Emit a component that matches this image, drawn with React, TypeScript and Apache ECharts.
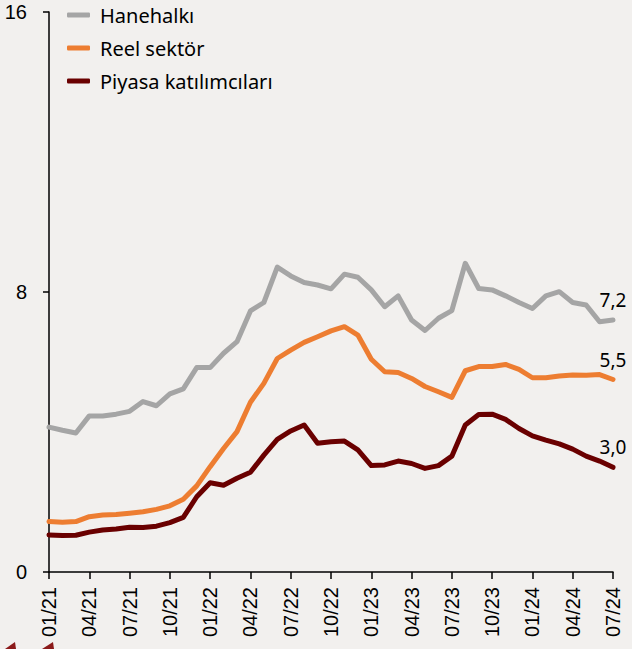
import React, { useEffect, useRef } from "react";
import * as echarts from "echarts";

const categories = [
  "01/21","02/21","03/21","04/21","05/21","06/21","07/21","08/21","09/21","10/21","11/21","12/21",
  "01/22","02/22","03/22","04/22","05/22","06/22","07/22","08/22","09/22","10/22","11/22","12/22",
  "01/23","02/23","03/23","04/23","05/23","06/23","07/23","08/23","09/23","10/23","11/23","12/23",
  "01/24","02/24","03/24","04/24","05/24","06/24","07/24",
];

const hanehalki = [
  4.14, 4.05, 3.97, 4.46, 4.46, 4.51, 4.59, 4.87, 4.75, 5.09, 5.23, 5.84,
  5.84, 6.25, 6.58, 7.46, 7.7, 8.71, 8.46, 8.27, 8.2, 8.09, 8.51, 8.42,
  8.06, 7.58, 7.89, 7.2, 6.9, 7.25, 7.47, 8.82, 8.1, 8.06, 7.89, 7.7,
  7.53, 7.89, 8.01, 7.7, 7.63, 7.15, 7.2,
];

const reelSektor = [
  1.44, 1.42, 1.44, 1.58, 1.63, 1.64, 1.68, 1.72, 1.79, 1.89, 2.08, 2.46,
  3.01, 3.53, 4.01, 4.85, 5.39, 6.1, 6.34, 6.56, 6.72, 6.89, 7.01, 6.77,
  6.08, 5.72, 5.7, 5.53, 5.3, 5.15, 4.99, 5.75, 5.87, 5.87, 5.93, 5.79,
  5.55, 5.55, 5.6, 5.63, 5.62, 5.64, 5.5,
];

const piyasa = [
  1.06, 1.04, 1.05, 1.14, 1.2, 1.23, 1.28, 1.27, 1.31, 1.41, 1.56, 2.15,
  2.55, 2.48, 2.68, 2.85, 3.34, 3.79, 4.03, 4.2, 3.68, 3.72, 3.74, 3.49,
  3.04, 3.06, 3.17, 3.1, 2.96, 3.04, 3.31, 4.2, 4.5, 4.51, 4.36, 4.1,
  3.89, 3.77, 3.66, 3.51, 3.31, 3.17, 2.99,
];

const seriesNames = ["Hanehalkı", "Reel sektör", "Piyasa katılımcıları"];
const yTicks = [0, 8, 16];

const TEXT_FONT = '"Noto Sans", "DejaVu Sans", sans-serif';
const AXIS_FONT = '"Liberation Sans", Arial, sans-serif';

function makeSeries(name: string, data: number[], color: string) {
  const last = data.length - 1;
  return {
    name,
    type: "line",
    data,
    showSymbol: false,
    symbol: "none",
    lineStyle: { color, width: 5, cap: "round", join: "round" },
    itemStyle: { color },
    emphasis: { disabled: true },
    markPoint: {
      silent: true,
      symbol: "circle",
      symbolSize: 1,
      itemStyle: { color: "rgba(0,0,0,0)" },
      label: {
        show: true,
        position: "top",
        distance: 10,
        formatter: (p: any) => Number(p.value).toFixed(1).replace(".", ","),
        color: "#000",
        fontFamily: TEXT_FONT,
        fontSize: 19,
      },
      data: [{ coord: [categories[last], data[last]], value: data[last] }],
    },
  };
}

export default function App() {
  const ref = useRef<HTMLDivElement>(null);

  useEffect(() => {
    if (!ref.current) return;
    const chart = echarts.init(ref.current, undefined, { renderer: "svg" });
    chart.setOption({
      animation: false,
      backgroundColor: "#f2f0ee",
      grid: { left: 49, right: 19, top: 12, bottom: 77, containLabel: false },
      legend: {
        orient: "vertical",
        left: 62,
        top: 0,
        icon: "roundRect",
        itemWidth: 23,
        itemHeight: 5,
        itemGap: 13,
        data: seriesNames,
        textStyle: {
          fontFamily: TEXT_FONT,
          fontSize: 20,
          color: "#000",
          lineHeight: 20,
          padding: [0, 0, 0, 5],
        },
      },
      xAxis: {
        type: "category",
        data: categories,
        boundaryGap: false,
        axisLine: { show: true, lineStyle: { color: "#000", width: 1.5 } },
        axisTick: { show: true, interval: 2, length: 7, lineStyle: { color: "#000", width: 1.5 } },
        axisLabel: {
          interval: 2,
          rotate: 90,
          margin: 15,
          fontFamily: AXIS_FONT,
          fontSize: 20,
          color: "#000",
        },
        splitLine: { show: false },
      },
      yAxis: {
        type: "value",
        min: yTicks[0],
        max: yTicks[yTicks.length - 1],
        interval: 8,
        axisLine: { show: true, lineStyle: { color: "#000", width: 1.5 } },
        axisTick: { show: true, length: 6, lineStyle: { color: "#000", width: 1.5 } },
        axisLabel: {
          margin: 22,
          fontFamily: AXIS_FONT,
          fontSize: 20,
          color: "#000",
        },
        splitLine: { show: false },
      },
      series: [
        makeSeries(seriesNames[0], hanehalki, "#a5a5a5"),
        makeSeries(seriesNames[1], reelSektor, "#ed7d31"),
        makeSeries(seriesNames[2], piyasa, "#6a0000"),
      ],
      graphic: [
        {
          type: "polygon",
          shape: { points: [[5, 649], [15, 642], [16, 649]] },
          style: { fill: "#8b1a1a" },
          silent: true,
        },
        {
          type: "polygon",
          shape: { points: [[42, 649], [53, 642], [54, 649]] },
          style: { fill: "#8b1a1a" },
          silent: true,
        },
      ],
    });
    return () => chart.dispose();
  }, []);

  return (
    <div
      ref={ref}
      style={{ position: "fixed", left: 0, top: 0, width: 632, height: 649 }}
    />
  );
}
